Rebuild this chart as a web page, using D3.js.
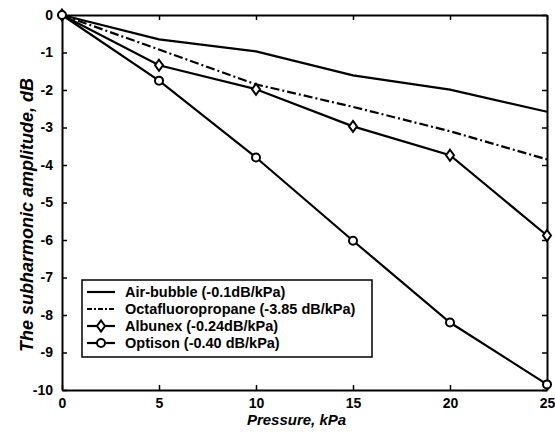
<!DOCTYPE html>
<html>
<head>
<meta charset="utf-8">
<script src="https://cdn.jsdelivr.net/npm/d3@7"></script>
<style>
  body { margin: 0; background: #fff; }
  text { font-family: "Liberation Sans", Arial, sans-serif; font-weight: bold; }
</style>
</head>
<body>
<svg id="chart" width="555" height="432"></svg>
<script>
var pressure = [0, 5, 10, 15, 20, 25];
var airBubble = [0, -0.65, -0.97, -1.61, -1.99, -2.58];
var octafluoro = [0, -0.92, -1.85, -2.45, -3.1, -3.85];
var albunex = [0, -1.34, -1.98, -2.97, -3.74, -5.88];
var optison = [0, -1.75, -3.8, -6.02, -8.2, -9.85];
var seriesNames = ["Air-bubble (-0.1dB/kPa)", "Octafluoropropane (-3.85 dB/kPa)",
                   "Albunex (-0.24dB/kPa)", "Optison (-0.40 dB/kPa)"];
var xTicks = [0, 5, 10, 15, 20, 25];
var yTicks = [0, -1, -2, -3, -4, -5, -6, -7, -8, -9, -10];

var svg = d3.select("#chart");
var m_left = 62, m_right = 547, m_top = 15, m_bottom = 390;

var x = d3.scaleLinear().domain([0, 25]).range([m_left, m_right]);
var y = d3.scaleLinear().domain([-10, 0]).range([m_bottom, m_top]);

var series = [
  { name: seriesNames[0], values: airBubble, dash: null, marker: null },
  { name: seriesNames[1], values: octafluoro, dash: "9,3,2,3", marker: null },
  { name: seriesNames[2], values: albunex, dash: null, marker: "diamond" },
  { name: seriesNames[3], values: optison, dash: null, marker: "circle" }
];

// plain hyphen minus, like the original figure
var fmt = function (d) { return String(d); };

// axes (ticks pointing inward on all sides)
svg.append("g").attr("transform", `translate(0,${m_bottom})`)
  .call(d3.axisBottom(x).tickValues(xTicks).tickFormat(fmt).tickSizeInner(-5).tickSizeOuter(0).tickPadding(8));
svg.append("g").attr("transform", `translate(0,${m_top})`)
  .call(d3.axisTop(x).tickValues(xTicks).tickSizeInner(-5).tickSizeOuter(0).tickFormat(""));
svg.append("g").attr("transform", `translate(${m_left},0)`)
  .call(d3.axisLeft(y).tickValues(yTicks).tickFormat(fmt).tickSizeInner(-5).tickSizeOuter(0).tickPadding(9));
svg.append("g").attr("transform", `translate(${m_right},0)`)
  .call(d3.axisRight(y).tickValues(yTicks).tickSizeInner(-5).tickSizeOuter(0).tickFormat(""));

svg.selectAll(".domain").attr("stroke", "#000").attr("stroke-width", 2);
svg.selectAll(".tick line").attr("stroke", "#000").attr("stroke-width", 1.5);
svg.selectAll(".tick text").attr("font-size", 14).attr("fill", "#000")
  .style("font-family", "'Liberation Sans', Arial, sans-serif").style("font-weight", "bold");

// lines
var line = d3.line().x(function (d, i) { return x(pressure[i]); }).y(function (d) { return y(d); });

function drawMarker(g, type, cx, cy) {
  if (type == "diamond") {
    g.append("path")
      .attr("d", `M ${cx} ${cy - 5.5} L ${cx + 4} ${cy} L ${cx} ${cy + 5.5} L ${cx - 4} ${cy} Z`)
      .attr("fill", "#fff").attr("stroke", "#000").attr("stroke-width", 2);
  } else if (type == "circle") {
    g.append("circle").attr("cx", cx).attr("cy", cy).attr("r", 4)
      .attr("fill", "#fff").attr("stroke", "#000").attr("stroke-width", 2);
  }
}

var plot = svg.append("g");
series.forEach(function (s) {
  plot.append("path").datum(s.values)
    .attr("d", line).attr("fill", "none").attr("stroke", "#000")
    .attr("stroke-width", 2.2).attr("stroke-dasharray", s.dash);
});
series.forEach(function (s) {
  if (!s.marker) return;
  s.values.forEach(function (v, i) { drawMarker(plot, s.marker, x(pressure[i]), y(v)); });
});

// legend
var leg = svg.append("g");
leg.append("rect").attr("x", 82).attr("y", 280).attr("width", 290).attr("height", 77)
  .attr("fill", "#fff").attr("stroke", "#000").attr("stroke-width", 1.5);
series.forEach(function (s, i) {
  var ly = 292 + i * 17;
  leg.append("line").attr("x1", 87).attr("x2", 115).attr("y1", ly).attr("y2", ly)
    .attr("stroke", "#000").attr("stroke-width", 2.2).attr("stroke-dasharray", s.dash ? "5,2,2,2" : null);
  drawMarker(leg, s.marker, 101, ly);
  leg.append("text").attr("x", 125).attr("y", ly + 5).attr("font-size", 14.5).text(s.name);
});

// axis titles
svg.append("text").attr("x", (m_left + m_right) / 2 - 8).attr("y", 425).attr("text-anchor", "middle")
  .attr("font-size", 15).attr("font-style", "italic").text("Pressure, kPa");
svg.append("text").attr("transform", "translate(33,215) rotate(-90)").attr("text-anchor", "middle")
  .attr("font-size", 18).attr("font-style", "italic").text("The subharmonic amplitude, dB");
</script>
</body>
</html>
